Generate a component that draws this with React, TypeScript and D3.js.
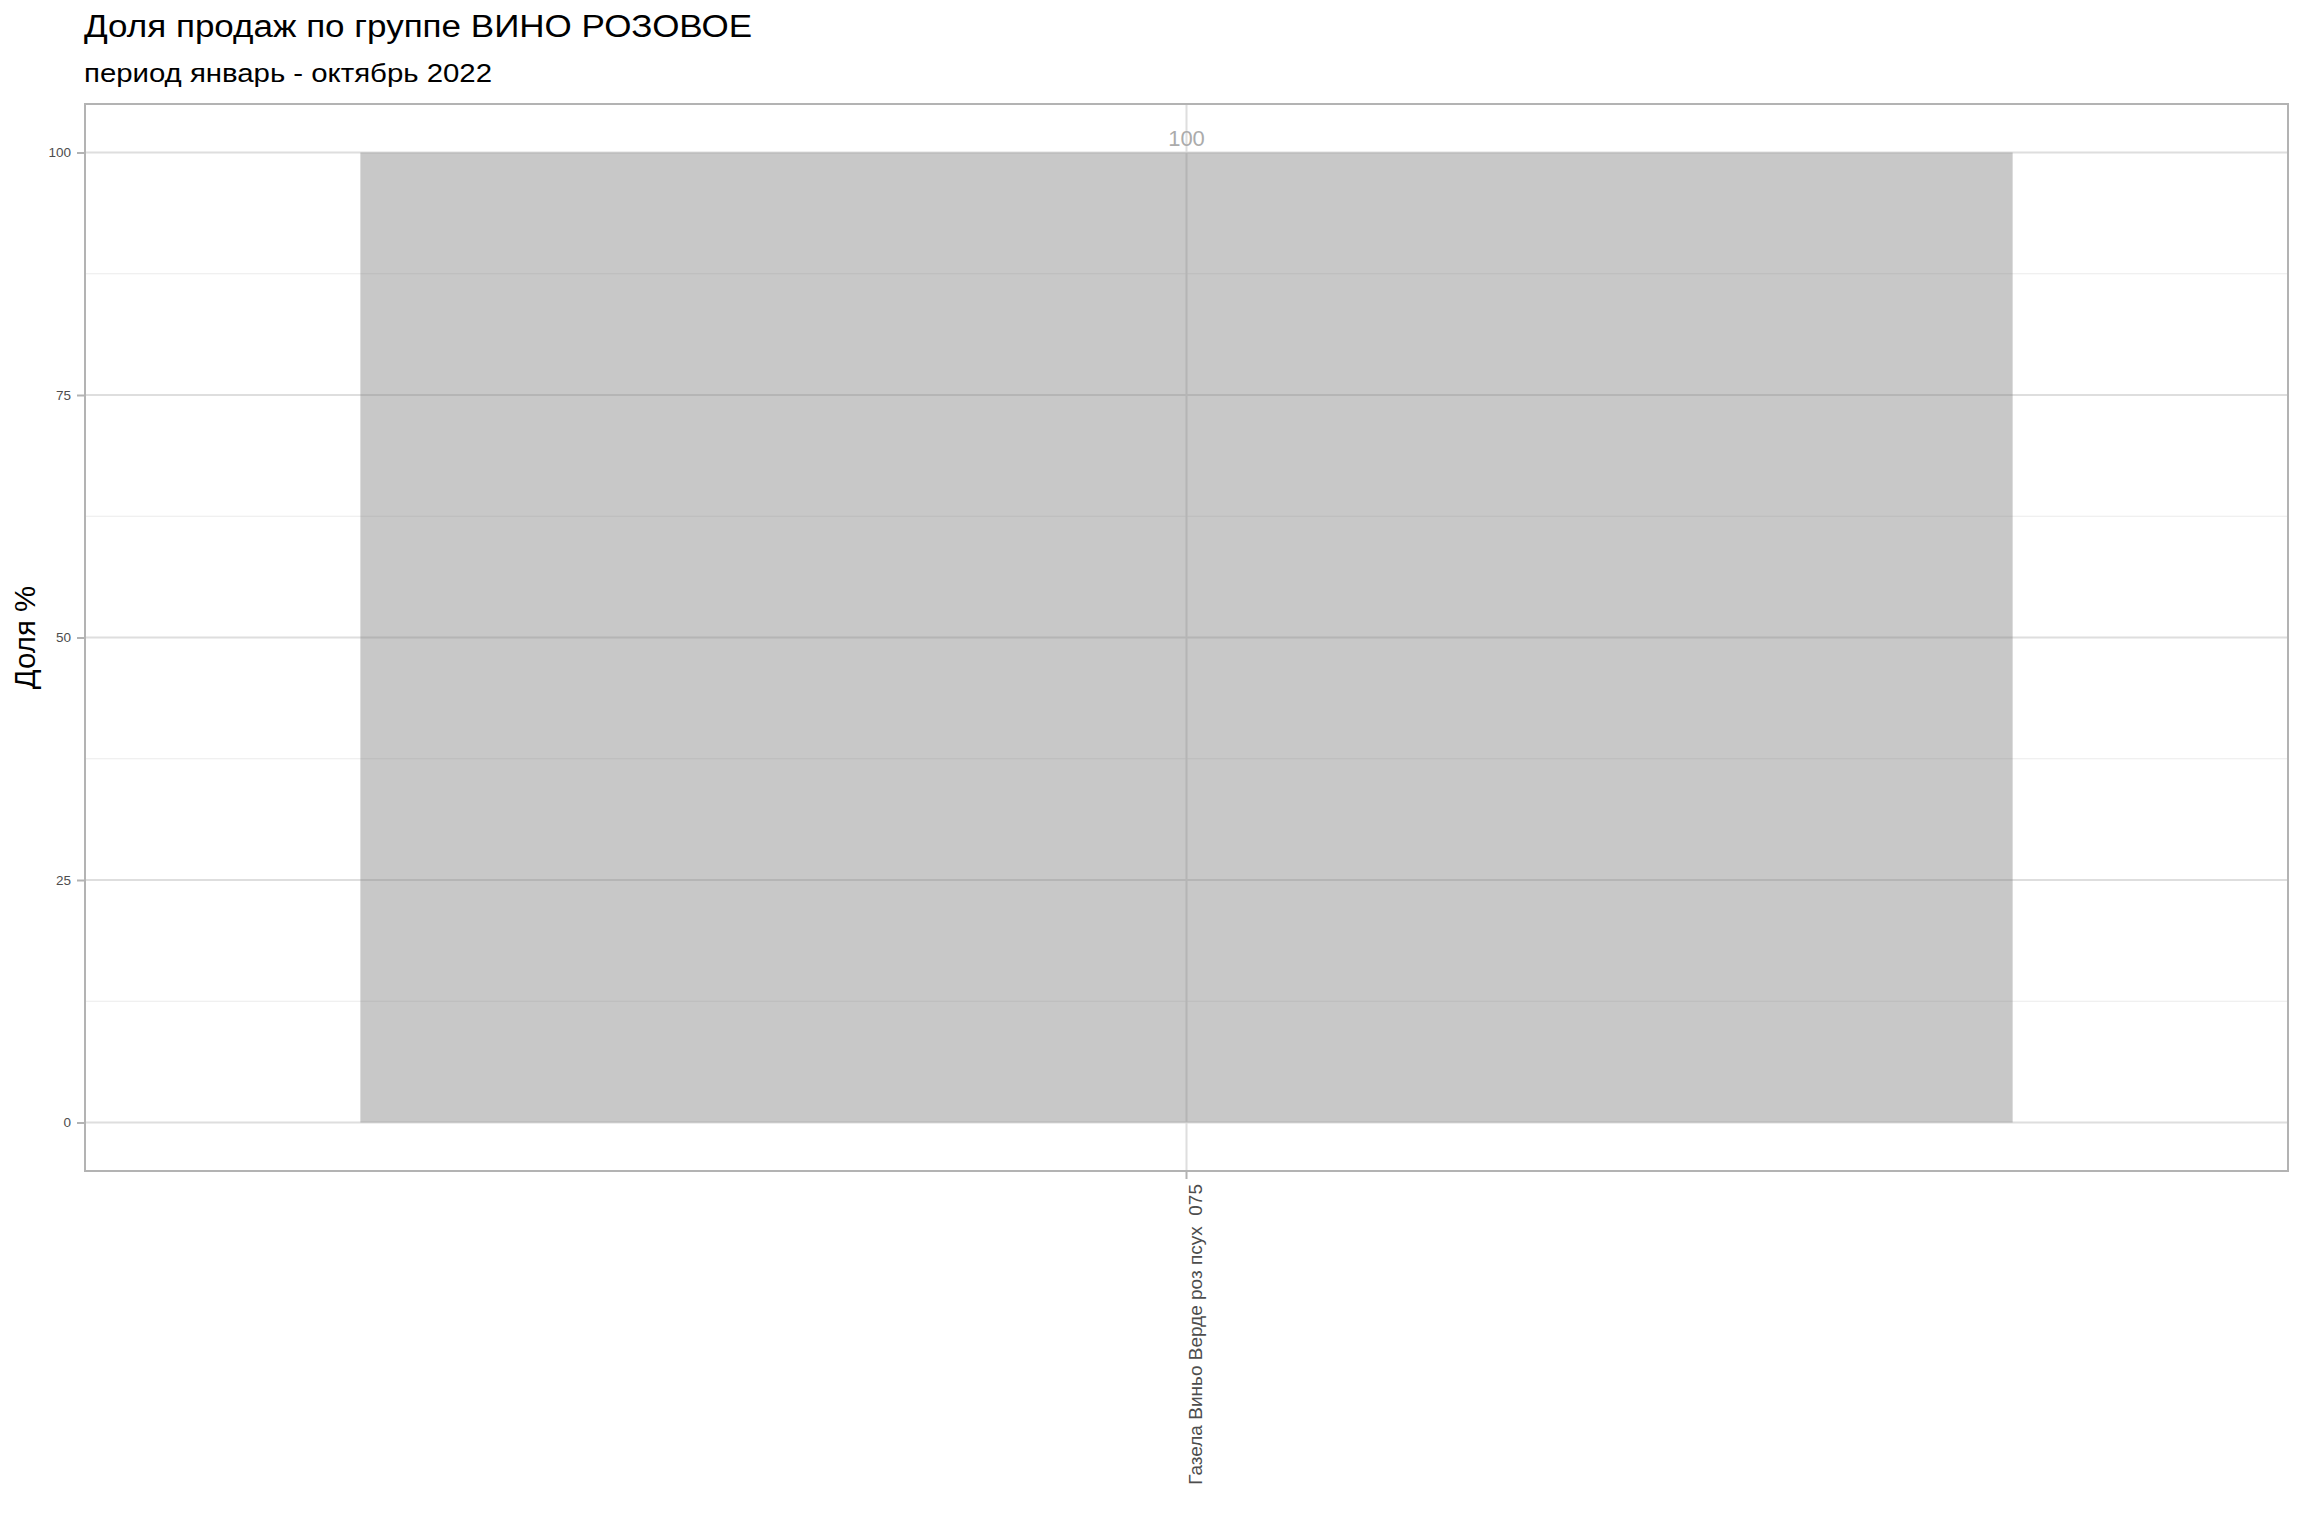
import { useRef, useEffect } from "react";
import { select, scaleBand, scaleLinear, axisLeft, axisBottom } from "d3";

// data
const categories = ["Газела Виньо Верде роз псух  075"];
const shares = [100];
const yTicks = [0, 25, 50, 75, 100];
const yMinorTicks = [12.5, 37.5, 62.5, 87.5];

const titleText = "Доля продаж по группе ВИНО РОЗОВОЕ";
const subtitleText = "период январь - октябрь 2022";
const yLabel = "Доля %";

const W = 2304;
const H = 1536;
const FONT = "'Liberation Sans', Arial, Helvetica, sans-serif";

export default function App() {
  const svgRef = useRef<SVGSVGElement>(null);

  useEffect(() => {
    const svg = select(svgRef.current);
    svg.selectAll("*").remove();

    const panel = { left: 85, right: 2288, top: 104, bottom: 1171 };

    const x = scaleBand()
      .domain(categories)
      .range([panel.left, panel.right])
      .paddingInner(0.1)
      .paddingOuter(0.15);

    const y = scaleLinear().domain([-5, 105]).range([panel.bottom, panel.top]);

    const g = svg.append("g").attr("font-family", FONT);

    // panel background
    g.append("rect")
      .attr("x", panel.left)
      .attr("y", panel.top)
      .attr("width", panel.right - panel.left)
      .attr("height", panel.bottom - panel.top)
      .attr("fill", "white");

    // minor grid
    g.selectAll(".minor")
      .data(yMinorTicks)
      .join("line")
      .attr("class", "minor")
      .attr("x1", panel.left)
      .attr("x2", panel.right)
      .attr("y1", (d) => y(d))
      .attr("y2", (d) => y(d))
      .attr("stroke", "#ebebeb")
      .attr("stroke-width", 1);

    // major grid
    g.selectAll(".major")
      .data(yTicks)
      .join("line")
      .attr("class", "major")
      .attr("x1", panel.left)
      .attr("x2", panel.right)
      .attr("y1", (d) => y(d))
      .attr("y2", (d) => y(d))
      .attr("stroke", "#dedede")
      .attr("stroke-width", 2);

    g.selectAll(".vmajor")
      .data(categories)
      .join("line")
      .attr("class", "vmajor")
      .attr("x1", (d) => x(d)! + x.bandwidth() / 2)
      .attr("x2", (d) => x(d)! + x.bandwidth() / 2)
      .attr("y1", panel.top)
      .attr("y2", panel.bottom)
      .attr("stroke", "#dedede")
      .attr("stroke-width", 2);

    // bars (semi-transparent so the grid shows through)
    g.selectAll(".bar")
      .data(categories)
      .join("rect")
      .attr("class", "bar")
      .attr("x", (d) => x(d)!)
      .attr("width", x.bandwidth())
      .attr("y", (d, i) => y(shares[i]))
      .attr("height", (d, i) => y(0) - y(shares[i]))
      .attr("fill", "#808080")
      .attr("fill-opacity", 0.43);

    // value labels
    g.selectAll(".val")
      .data(categories)
      .join("text")
      .attr("class", "val")
      .attr("x", (d) => x(d)! + x.bandwidth() / 2)
      .attr("y", (d, i) => y(shares[i]) - 7)
      .attr("text-anchor", "middle")
      .attr("font-size", 22)
      .attr("fill", "#ababab")
      .text((d, i) => shares[i]);

    // panel border
    g.append("rect")
      .attr("x", panel.left)
      .attr("y", panel.top)
      .attr("width", panel.right - panel.left)
      .attr("height", panel.bottom - panel.top)
      .attr("fill", "none")
      .attr("stroke", "#b3b3b3")
      .attr("stroke-width", 2);

    // y axis
    const yAxis = axisLeft(y).tickValues(yTicks).tickSize(8).tickPadding(6);
    const ya = g.append("g").attr("transform", `translate(${panel.left},0)`).call(yAxis);
    ya.select(".domain").remove();
    ya.selectAll(".tick line").attr("stroke", "#b3b3b3").attr("stroke-width", 2);
    ya.selectAll(".tick text")
      .attr("font-family", FONT)
      .attr("font-size", 13.5)
      .attr("fill", "#4d4d4d");

    // x axis
    const xAxis = axisBottom(x).tickSize(8).tickPadding(0);
    const xa = g.append("g").attr("transform", `translate(0,${panel.bottom})`).call(xAxis);
    xa.select(".domain").remove();
    xa.selectAll(".tick line").attr("stroke", "#b3b3b3").attr("stroke-width", 2);
    xa.selectAll(".tick text")
      .attr("font-family", FONT)
      .attr("font-size", 19)
      .attr("fill", "#4d4d4d")
      .attr("text-anchor", "end")
      .attr("dy", null)
      .attr("y", 0)
      .attr("transform", "translate(15,13) rotate(-90)")
      .style("white-space", "pre");

    // y label
    g.append("text")
      .attr("transform", `translate(35,${(panel.top + panel.bottom) / 2}) rotate(-90)`)
      .attr("text-anchor", "middle")
      .attr("font-size", 29.4)
      .attr("fill", "black")
      .text(yLabel);

    // titles (reference face is a bit wider than Liberation Sans)
    g.append("text")
      .attr("transform", "translate(84,37) scale(1.13,1)")
      .attr("font-size", 31)
      .attr("fill", "black")
      .text(titleText);

    g.append("text")
      .attr("transform", "translate(84,82) scale(1.1,1)")
      .attr("font-size", 26.7)
      .attr("fill", "black")
      .text(subtitleText);
  }, []);

  return (
    <svg
      ref={svgRef}
      width={W}
      height={H}
      style={{ position: "absolute", left: 0, top: 0, background: "white" }}
    />
  );
}
